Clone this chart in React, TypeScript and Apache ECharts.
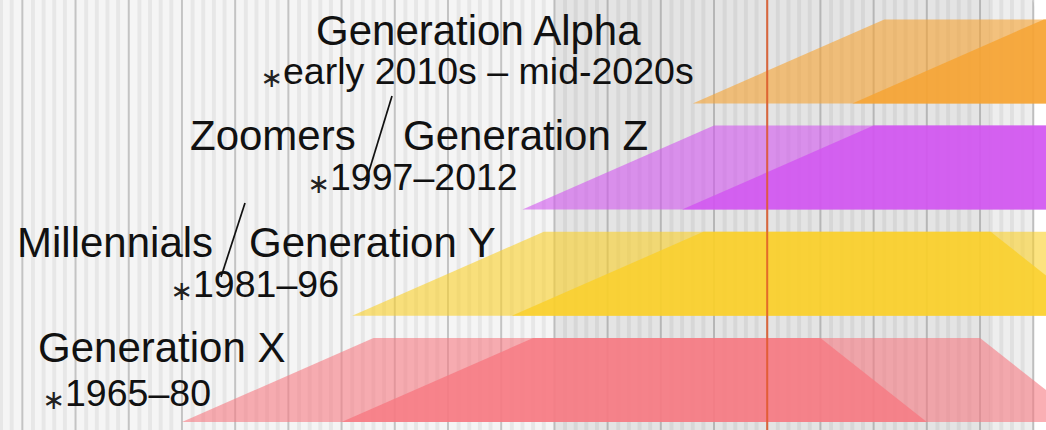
import React, { useEffect, useRef } from "react";
import * as echarts from "echarts";

// ---- data ----
const generationNames = ["Generation X", "Millennials / Generation Y", "Zoomers / Generation Z", "Generation Alpha"];
const birthStart = [1965, 1981, 1997, 2013];
const birthEnd = [1980, 1996, 2012, 2028];
const ageAtTopLeft = 18;
const ageAtTopRight = 60;
const ageAtBottomRight = 70;
const currentYear = 2020;
const bgRegionStart = [1940, 2000, 2041];
const bgRegionEnd = [2000, 2041, 2045.1];
const gridYears: number[] = [];
for (let y = 1946; y <= 2045; y++) gridYears.push(y);

// ---- styles ----
const YEAR_MIN = 1947.9;
const YEAR_MAX = 2046.2;
const Y_MIN = -0.0753;
const Y_MAX = 3.9736;
const BAND = 0.791;
const bandColors = ["#f77a82", "#fad02a", "#d256f0", "#f6a332"];
const bgColors = ["#f5f5f5", "#e4e4e4", "#eeeeee"];
const FONT = "'Liberation Sans', Arial, Helvetica, sans-serif";

function text(str: string, x: number, baseline: number, size: number) {
  return {
    type: "text",
    x,
    y: baseline - 0.3465 * size,
    z: 100,
    silent: true,
    style: { text: str, fontSize: size, fontFamily: FONT, fill: "#111", align: "left", verticalAlign: "middle" },
  };
}
function star(right: number, cy: number) {
  return {
    type: "text",
    x: right,
    y: cy,
    z: 100,
    silent: true,
    style: { text: "\u2217", fontSize: 27, fontFamily: "'DejaVu Sans', sans-serif", fill: "#222", align: "right", verticalAlign: "middle" },
  };
}
function slash(x1: number, y1: number, x2: number, y2: number) {
  return {
    type: "line",
    z: 100,
    silent: true,
    shape: { x1, y1, x2, y2 },
    style: { stroke: "#111", lineWidth: 1.7 },
  };
}

export default function App() {
  const ref = useRef<HTMLDivElement>(null);
  useEffect(() => {
    if (!ref.current) return;
    const chart = echarts.init(ref.current, undefined, { renderer: "svg" });
    const option: any = {
      animation: false,
      backgroundColor: "#ffffff",
      grid: { left: 0, right: 0, top: 0, bottom: 0 },
      xAxis: { type: "value", min: YEAR_MIN, max: YEAR_MAX, show: false },
      yAxis: { type: "value", min: Y_MIN, max: Y_MAX, show: false },
      series: [
        {
          type: "custom",
          z: 1,
          silent: true,
          clip: false,
          data: bgRegionStart.map((s, i) => [s, bgRegionEnd[i], i]),
          renderItem: (params: any, api: any) => {
            const i = api.value(2);
            const a = api.coord([api.value(0), Y_MAX + 0.05]);
            const b = api.coord([api.value(1), Y_MIN - 0.05]);
            const last = i === bgRegionStart.length - 1;
            return {
              type: "rect",
              shape: { x: a[0], y: a[1], width: b[0] - a[0], height: b[1] - a[1], r: last ? [0, 12, 0, 0] : 0 },
              style: { fill: bgColors[i] },
            };
          },
        },
        {
          type: "custom",
          z: 2,
          silent: true,
          clip: false,
          data: gridYears.map((y) => [y]),
          renderItem: (params: any, api: any) => {
            const yr = api.value(0);
            const major = yr % 5 === 0;
            const a = api.coord([yr, Y_MAX]);
            const b = api.coord([yr, Y_MIN]);
            return {
              type: "line",
              shape: { x1: a[0], y1: a[1], x2: b[0], y2: b[1] },
              style: { stroke: major ? "rgba(0,0,0,0.2)" : "rgba(0,0,0,0.055)", lineWidth: major ? 2 : 4 },
            };
          },
        },
        {
          type: "custom",
          name: "generations",
          z: 3,
          silent: true,
          clip: false,
          data: birthStart.map((b, i) => [i, b, birthEnd[i]]),
          renderItem: (params: any, api: any) => {
            const row = api.value(0);
            const bs = api.value(1);
            const be = api.value(2);
            const p = (yr: number, lvl: number) => api.coord([yr, row + lvl * BAND]);
            const light = [p(bs, 0), p(bs + ageAtTopLeft, 1), p(be + ageAtTopRight, 1), p(be + ageAtBottomRight, 0)];
            const dark = [p(be, 0), p(be + ageAtTopLeft, 1), p(bs + ageAtTopRight, 1), p(bs + ageAtBottomRight, 0)];
            const color = bandColors[row];
            return {
              type: "group",
              children: [
                { type: "polygon", shape: { points: light }, style: { fill: color, opacity: 0.6 } },
                { type: "polygon", shape: { points: dark }, style: { fill: color, opacity: 0.82 } },
              ],
            };
          },
        },
        {
          type: "custom",
          z: 4,
          silent: true,
          clip: false,
          data: [[currentYear]],
          renderItem: (params: any, api: any) => {
            const a = api.coord([api.value(0), Y_MAX]);
            const b = api.coord([api.value(0), Y_MIN]);
            return {
              type: "line",
              shape: { x1: a[0], y1: a[1], x2: b[0], y2: b[1] },
              style: { stroke: "rgba(224,88,40,0.85)", lineWidth: 2 },
            };
          },
        },
      ],
      graphic: [
        text("Generation Alpha", 316, 45, 42),
        star(283, 77),
        text("early 2010s \u2013 mid-2020s", 283, 84, 37.5),
        text("Zoomers", 190, 150, 42),
        slash(392, 96, 366, 181),
        text("Generation Z", 403, 150, 42),
        star(330, 183),
        text("1997\u20132012", 330, 190, 37.5),
        text("Millennials", 17, 257, 42),
        slash(245, 203, 221, 277),
        text("Generation Y", 249, 257, 42),
        star(193, 290),
        text("1981\u201396", 193, 297, 37.5),
        text("Generation X", 38, 362, 42),
        star(65, 399),
        text("1965\u201380", 65, 406, 37.5),
      ],
    };
    chart.setOption(option);
    return () => chart.dispose();
  }, []);
  return <div ref={ref} style={{ position: "absolute", left: 0, top: 0, width: 1046, height: 430 }} />;
}
